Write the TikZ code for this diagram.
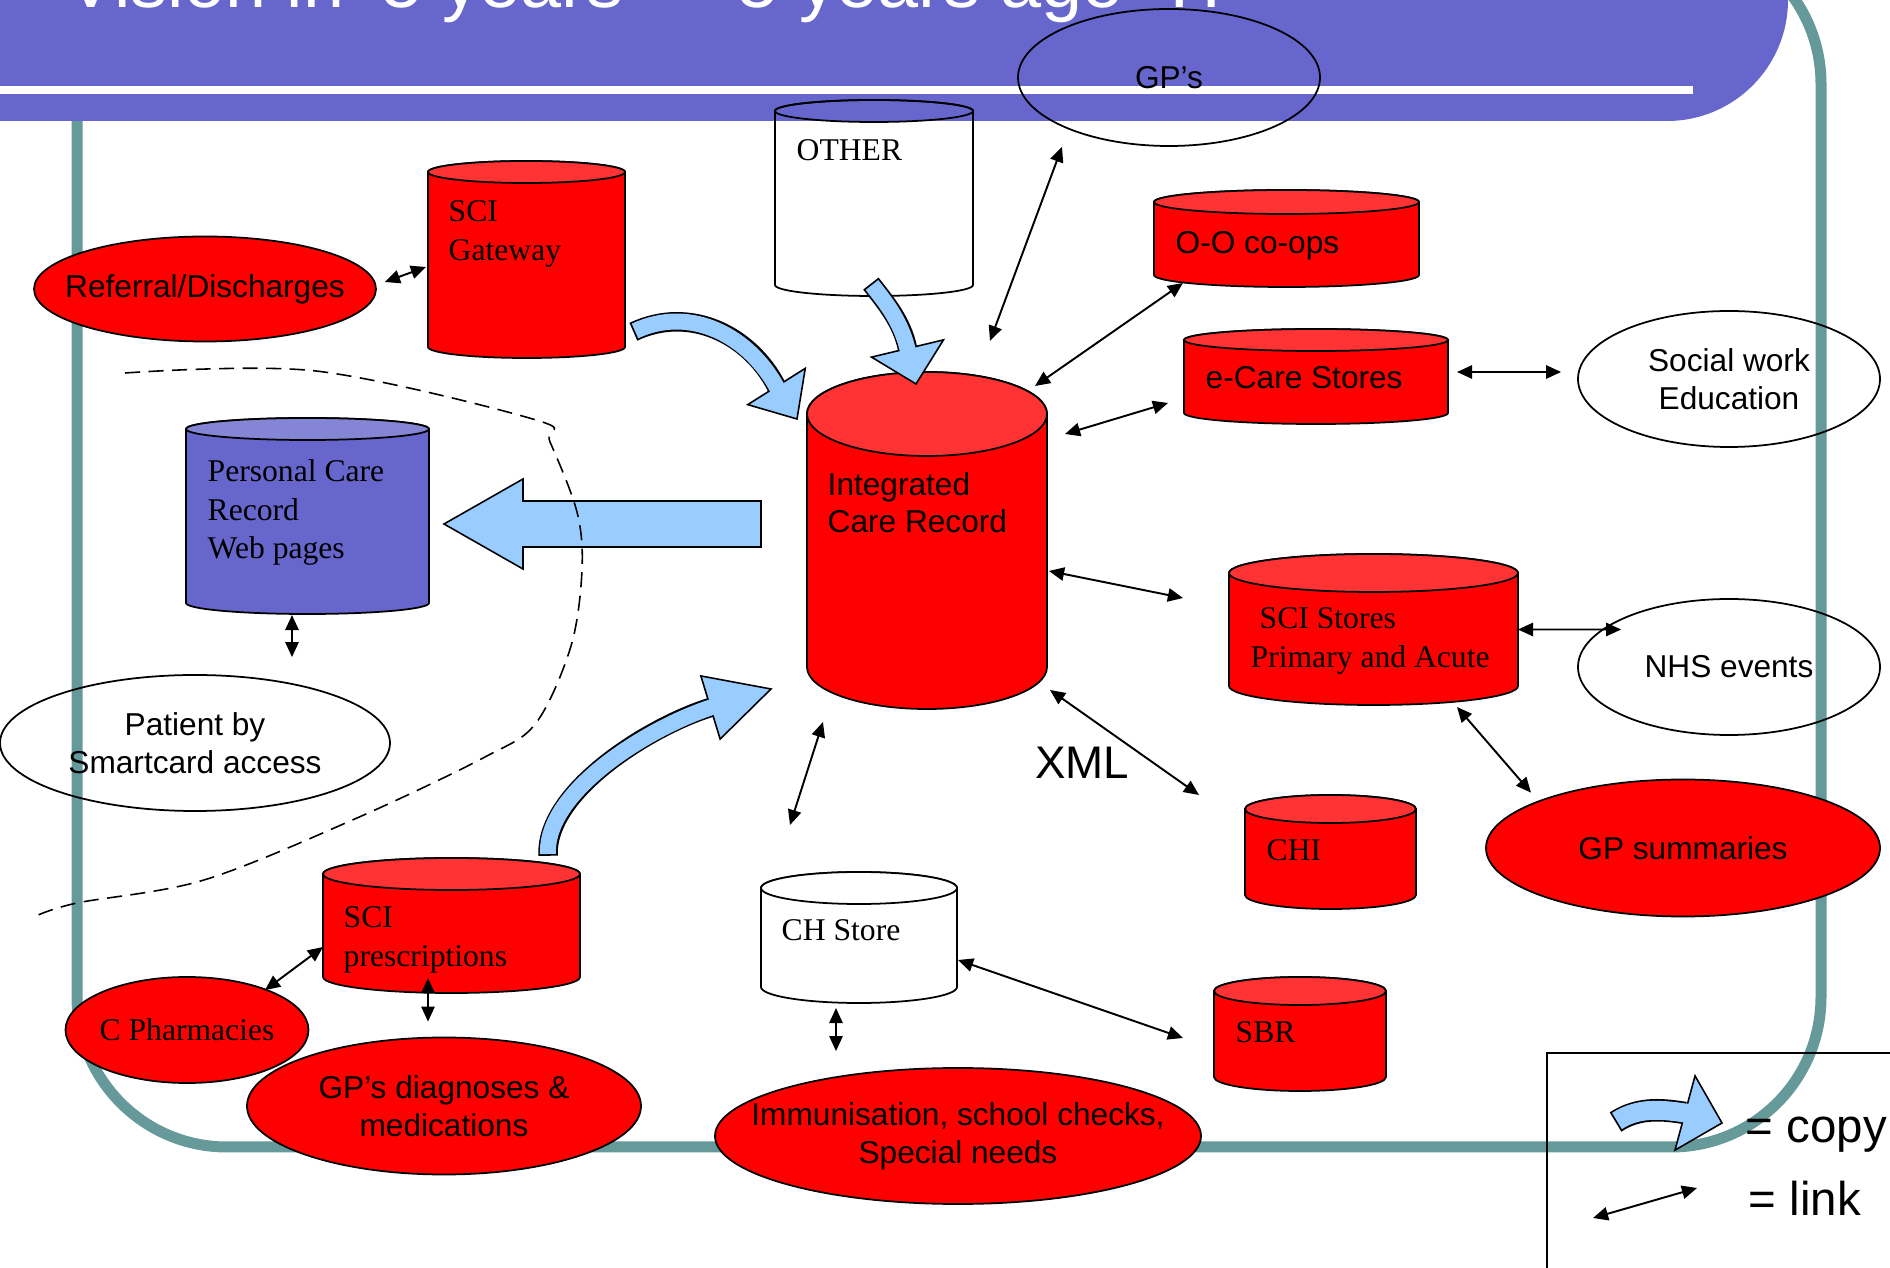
\documentclass[tikz,border=0pt]{standalone}
\usepackage{fontspec}
\setmainfont{Liberation Serif}
\setsansfont{Liberation Sans}
\usepackage{xcolor}
\usepackage{tikz}
\usetikzlibrary{positioning, shapes, arrows.meta, calc}

\definecolor{cylred}{HTML}{FF0000}
\definecolor{topred}{HTML}{FF3333}
\definecolor{pcrblue}{HTML}{6666CC}
\definecolor{pcrtop}{HTML}{8585D6}
\definecolor{copyblue}{HTML}{99CCFF}
\definecolor{frameteal}{HTML}{669999}
\definecolor{barblue}{HTML}{6666CC}

\tikzset{
  drumbox/.style={rectangle, inner sep=0pt, outer sep=0pt},
  drumline/.style={draw=black, line width=0.5pt},
  drumtext/.style={inner sep=0pt, align=left, font=\fontsize{9}{11}\selectfont},
  drumsans/.style={inner sep=0pt, align=left, font=\sffamily\fontsize{9}{10.5}\selectfont},
  bubble/.style={ellipse, draw, line width=0.5pt, inner sep=0pt},
  redbubble/.style={bubble, fill=cylred},
  bubbletext/.style={align=center, inner sep=0pt, font=\sffamily\fontsize{9}{10.8}\selectfont},
  linkarrow/.style={{Triangle[length=4.3pt,width=3.8pt]}-{Triangle[length=4.3pt,width=3.8pt]}, line width=0.55pt},
  copyfill/.style={fill=copyblue, draw=black, line width=0.45pt},
  slideframe/.style={draw=frameteal, line width=0.11cm, rounded corners=1.5cm},
  keytext/.style={inner sep=0pt, font=\sffamily\fontsize{13.5}{16}\selectfont},
}

% store drawn as a cylinder: name, centre, width, height, end radius, body, top
\newcommand{\storedrum}[7]{%
  \node[drumbox, minimum width=#3cm, minimum height=#4cm] (#1) at (#2) {};
  \filldraw[drumline, fill=#6] ([yshift=-#5cm]#1.north west) -- ([yshift=#5cm]#1.south west)
    arc[start angle=180, end angle=360, x radius=#3cm/2, y radius=#5cm]
    -- ([yshift=-#5cm]#1.north east)
    arc[start angle=0, end angle=180, x radius=#3cm/2, y radius=#5cm] -- cycle;
  \filldraw[drumline, fill=#7] ([yshift=-#5cm]#1.north) ellipse[x radius=#3cm/2, y radius=#5cm];
}

% curved block arrow: tail, control, control, head base, tip, half head width, shaft width
\newcommand{\copyblock}[7]{%
  \draw[line width={#7+0.035cm}, shorten <=-0.018cm] (#1) .. controls (#2) and (#3) .. (#4);
  \filldraw[copyfill] ($(#4)!#6!90:(#5)$) -- (#5) -- ($(#4)!#6!-90:(#5)$) -- cycle;
  \draw[copyblue, line width=#7, shorten >=-0.05cm] (#1) .. controls (#2) and (#3) .. (#4);
}

\begin{document}
\begin{tikzpicture}
  \useasboundingbox (0,0) rectangle (18.9,-12.68);
  \clip (0,0) rectangle (18.9,-12.68);

  % slide frame and title bar
  \draw[slideframe] (0.77,0.66) rectangle (18.21,-11.47);
  \fill[barblue] (0,0.1) -- (17.88,0.1) -- (17.88,0) arc[start angle=0, end angle=-90, radius=1.21] -- (0,-1.21) -- cycle;
  \fill[white] (0,-0.86) rectangle (16.93,-0.94);
  \node[anchor=base west, inner sep=0pt, text=white, font=\sffamily\fontsize{21}{25}\selectfont] (title) at (0.66,-0.08) {Vision in ‘5 years’ – ‘5 years ago’ ?!};

  % key
  \draw[line width=0.4pt] (15.47,-12.9) -- (15.47,-10.53) -- (19,-10.53);
  \node[keytext, anchor=base west] (keycopy) at (17.45,-11.43) {= copy};
  \node[keytext, anchor=base west] (keylink) at (17.48,-12.15) {= link};

  % stores
  \storedrum{other}{8.74,-1.98}{1.98}{1.96}{0.11}{none}{none}
  \storedrum{gateway}{5.265,-2.595}{1.97}{1.97}{0.11}{cylred}{topred}
  \storedrum{coops}{12.865,-2.385}{2.65}{0.97}{0.12}{cylred}{topred}
  \storedrum{ecare}{13.16,-3.765}{2.64}{0.95}{0.11}{cylred}{topred}
  \storedrum{icr}{9.27,-5.405}{2.40}{3.37}{0.42}{cylred}{topred}
  \storedrum{pcr}{3.075,-5.16}{2.43}{1.96}{0.11}{pcrblue}{pcrtop}
  \storedrum{scistores}{13.735,-6.295}{2.89}{1.51}{0.19}{cylred}{topred}
  \storedrum{chi}{13.305,-8.52}{1.71}{1.14}{0.14}{cylred}{topred}
  \storedrum{sbr}{13.0,-10.34}{1.72}{1.14}{0.14}{cylred}{topred}
  \storedrum{chstore}{8.59,-9.375}{1.96}{1.31}{0.16}{white}{white}
  \storedrum{scipresc}{4.515,-9.255}{2.57}{1.35}{0.16}{cylred}{topred}

  % users
  \node[bubble, minimum width=3.02cm, minimum height=1.37cm, label={[bubbletext]center:GP’s}] (gps) at (11.69,-0.775) {};
  \node[redbubble, minimum width=3.42cm, minimum height=1.05cm, label={[bubbletext]center:Referral/Discharges}] (refer) at (2.05,-2.89) {};
  \node[bubble, minimum width=3.02cm, minimum height=1.36cm, label={[bubbletext]center:{Social work\\Education}}] (social) at (17.29,-3.79) {};
  \node[bubble, minimum width=3.02cm, minimum height=1.36cm, label={[bubbletext]center:NHS events}] (nhs) at (17.29,-6.67) {};
  \node[redbubble, minimum width=3.94cm, minimum height=1.37cm, label={[bubbletext]center:GP summaries}] (gpsum) at (16.83,-8.48) {};
  \node[bubble, minimum width=3.90cm, minimum height=1.36cm, label={[bubbletext]center:{Patient by\\Smartcard access}}] (patient) at (1.95,-7.43) {};
  \node[redbubble, minimum width=2.43cm, minimum height=1.06cm, label={[bubbletext, font=\fontsize{9}{11}\selectfont]center:C Pharmacies}] (pharm) at (1.87,-10.30) {};
  \node[redbubble, minimum width=3.94cm, minimum height=1.37cm, label={[bubbletext]center:{GP’s diagnoses \&\\medications}}] (diag) at (4.44,-11.06) {};
  \node[redbubble, minimum width=4.86cm, minimum height=1.36cm, label={[bubbletext]center:{Immunisation, school checks,\\Special needs}}] (immun) at (9.58,-11.36) {};

  % store labels
  \node[drumtext, below right=0.39cm and 0.21cm of other.north west] (othertext) {OTHER};
  \node[drumtext, below right=0.39cm and 0.20cm of gateway.north west] (gatewaytext) {SCI\\Gateway};
  \node[drumsans, below right=0.41cm and 0.21cm of coops.north west] (coopstext) {O-O co-ops};
  \node[drumsans, below right=0.37cm and 0.21cm of ecare.north west] (ecaretext) {e-Care Stores};
  \node[drumsans, below right=1.00cm and 0.20cm of icr.north west] (icrtext) {Integrated\\Care Record};
  \node[drumtext, below right=0.41cm and 0.21cm of pcr.north west] (pcrtext) {Personal Care\\Record\\Web pages};
  \node[drumtext, below right=0.53cm and 0.21cm of scistores.north west] (scistorestext) {\hspace*{0.09cm}SCI Stores\\Primary and Acute};
  \node[drumtext, below right=0.44cm and 0.21cm of chi.north west] (chitext) {CHI};
  \node[drumtext, below right=0.44cm and 0.21cm of sbr.north west] (sbrtext) {SBR};
  \node[drumtext, below right=0.47cm and 0.20cm of chstore.north west] (chstoretext) {CH Store};
  \node[drumtext, below right=0.48cm and 0.20cm of scipresc.north west] (scipresctext) {SCI\\prescriptions};
  \node[inner sep=0pt, font=\sffamily\fontsize{13}{15}\selectfont] (xml) at (10.82,-7.63) {XML};

  % links
  \draw[linkarrow] ([shift={(0.08,0.07)}]refer.east) -- ([shift={(-0.02,-0.075)}]gateway.west);
  \draw[linkarrow] ([xshift=-1.07cm]gps.south) -- ([shift={(0.63,0.31)}]icr.north);
  \draw[linkarrow] ([shift={(0.29,0.04)}]coops.south west) -- ([shift={(-0.12,-0.14)}]icr.north east);
  \draw[linkarrow] ([shift={(-0.16,-0.265)}]ecare.west) -- ([shift={(0.18,-0.62)}]icr.north east);
  \draw[linkarrow] ([shift={(0.09,0.045)}]ecare.east) -- ([shift={(-0.16,0.07)}]social.west);
  \draw[linkarrow] ([shift={(0.02,-0.305)}]icr.east) -- ([shift={(-0.46,0.315)}]scistores.west);
  \draw[linkarrow] (scistores.east) -- ([shift={(0.44,0.375)}]nhs.west);
  \draw[linkarrow] ([shift={(-0.61,-0.02)}]scistores.south east) -- ([shift={(-1.52,-0.14)}]gpsum.north);
  \draw[linkarrow] ([shift={(0.03,0.19)}]icr.south east) -- ([xshift=-0.46cm]chi.north west);
  \draw[linkarrow] ([shift={(-1.04,-0.13)}]icr.south) -- ([shift={(-0.69,0.47)}]chstore.north);
  \draw[linkarrow] ([shift={(0.01,-0.225)}]chstore.east) -- ([shift={(-0.31,-0.04)}]sbr.west);
  \draw[linkarrow] ([shift={(-0.23,-0.05)}]chstore.south) -- ([shift={(-1.22,0.16)}]immun.north);
  \draw[linkarrow] ([shift={(-0.155,-0.01)}]pcr.south) -- ([shift={(0.97,0.17)}]patient.north);
  \draw[linkarrow] ([shift={(0.78,-0.14)}]pharm.north) -- ([yshift=-0.215cm]scipresc.west);
  \draw[linkarrow] ([shift={(-0.235,0.15)}]scipresc.south) -- ([shift={(-0.16,0.15)}]diag.north);

  % copies
  \coordinate (gwtail) at ([shift={(0.10,-0.715)}]gateway.east);
  \coordinate (gwbase) at ([shift={(-0.305,-0.145)}]icr.north west);
  \coordinate (gwtip) at ([shift={(-0.10,-0.47)}]icr.north west);
  \copyblock{gwtail}{6.90,-3.05}{7.50,-3.35}{gwbase}{gwtip}{0.34cm}{0.16cm}

  \coordinate (othtail) at ([shift={(-0.02,0.11)}]other.south);
  \coordinate (othbase) at ([shift={(-0.195,0.235)}]icr.north);
  \coordinate (othtip) at ([shift={(-0.11,-0.12)}]icr.north);
  \copyblock{othtail}{8.86,-3.03}{9.02,-3.22}{othbase}{othtip}{0.37cm}{0.16cm}

  \coordinate (prtail) at ([shift={(0.965,0.04)}]scipresc.north);
  \coordinate (prbase) at ([shift={(-0.965,0.015)}]icr.south west);
  \coordinate (prtip) at ([shift={(-0.36,0.20)}]icr.south west);
  \copyblock{prtail}{5.45,-7.90}{6.53,-7.25}{prbase}{prtip}{0.33cm}{0.16cm}

  \coordinate (webtip) at ([shift={(0.15,-0.08)}]pcr.east);
  \filldraw[copyfill] (webtip) -- ++(0.79,0.45) -- ++(0,-0.22) -- ++(2.38,0) -- ++(0,-0.46) -- ++(-2.38,0) -- ++(0,-0.22) -- cycle;

  % key arrows
  \coordinate (keytail) at (16.17,-11.21);
  \coordinate (keybase) at (16.85,-11.13);
  \coordinate (keytip) at ([shift={(-0.23,0.20)}]keycopy.base west);
  \copyblock{keytail}{16.40,-11.06}{16.65,-11.10}{keybase}{keytip}{0.385cm}{0.19cm}
  \coordinate (keyend) at (15.93,-12.18);
  \draw[linkarrow] (keyend) -- ([shift={(-0.51,0.27)}]keylink.base west);

  % patient access boundary
  \draw[line width=0.45pt, dash pattern=on 4.3pt off 2.4pt] plot[smooth, tension=0.55] coordinates {(1.25,-3.73) (3.16,-3.71) (5.36,-4.20) (5.50,-4.42) (5.77,-5.12) (5.82,-5.70) (5.71,-6.46) (5.36,-7.23) (4.85,-7.57) (3.57,-8.18) (2.04,-8.80) (0.77,-9.03) (0.36,-9.16)};
\end{tikzpicture}
\end{document}
